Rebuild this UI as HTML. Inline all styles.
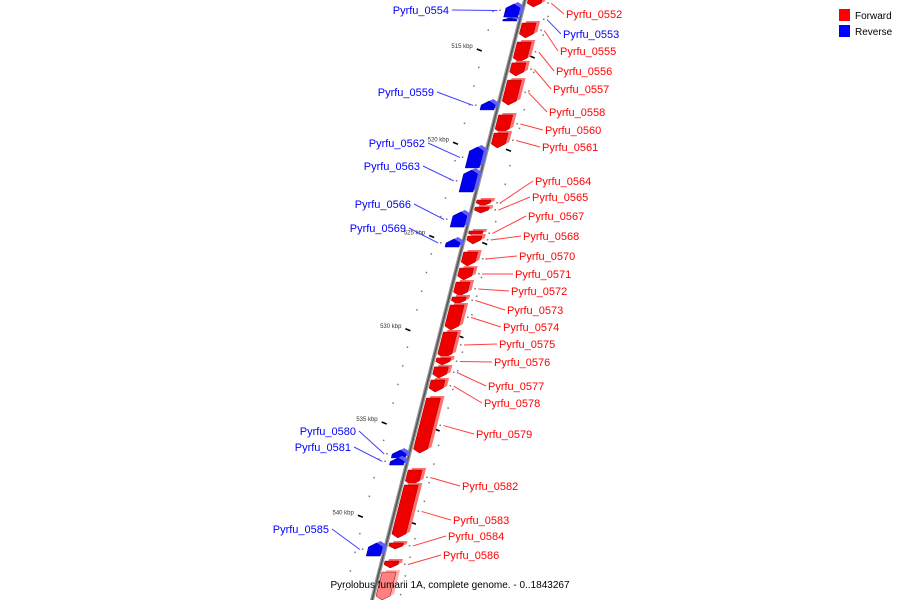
<!DOCTYPE html>
<html><head><meta charset="utf-8"><style>
html,body{margin:0;padding:0;background:#fff;width:900px;height:600px;overflow:hidden}
svg text{font-family:"Liberation Sans","DejaVu Sans",sans-serif}
</style></head><body>
<svg id="chart" width="900" height="600" viewBox="0 0 900 600" xmlns="http://www.w3.org/2000/svg">
<g id="ticks"></g>
<line x1="527" y1="-8" x2="371" y2="604" stroke="#999" stroke-width="4"/>
<line x1="527" y1="-8" x2="371" y2="604" stroke="#555" stroke-width="1.5"/>
<g id="genes"></g>
<g id="labels"></g>
<g>
<rect x="839" y="9" width="11" height="12" fill="#ff0000"/>
<text x="855" y="19" font-size="10" fill="#000">Forward</text>
<rect x="839" y="25" width="11" height="12" fill="#0000ff"/>
<text x="855" y="35" font-size="10" fill="#000">Reverse</text>
</g>
<text x="450" y="588" font-size="10" text-anchor="middle" fill="#000">Pyrolobus fumarii 1A, complete genome. - 0..1843267</text>
</svg>
<script>
const geneNames = ["Pyrfu_0552","Pyrfu_0553","Pyrfu_0554","Pyrfu_0555","Pyrfu_0556","Pyrfu_0557","Pyrfu_0558","Pyrfu_0559","Pyrfu_0560","Pyrfu_0561","Pyrfu_0562","Pyrfu_0563","Pyrfu_0564","Pyrfu_0565","Pyrfu_0566","Pyrfu_0567","Pyrfu_0568","Pyrfu_0569","Pyrfu_0570","Pyrfu_0571","Pyrfu_0572","Pyrfu_0573","Pyrfu_0574","Pyrfu_0575","Pyrfu_0576","Pyrfu_0577","Pyrfu_0578","Pyrfu_0579","Pyrfu_0580","Pyrfu_0581","Pyrfu_0582","Pyrfu_0583","Pyrfu_0584","Pyrfu_0585","Pyrfu_0586",""];
const geneStrand = [1,-1,-1,1,1,1,1,-1,1,1,-1,-1,1,1,-1,1,1,-1,1,1,1,1,1,1,1,1,1,1,-1,-1,1,1,1,-1,1,1];
const geneStart = [512.40,513.40,512.64,513.66,514.68,515.80,516.72,517.84,518.59,519.56,520.31,521.54,523.15,523.53,523.79,524.81,525.08,525.24,525.94,526.80,527.55,528.35,528.78,530.23,531.62,532.10,532.80,533.77,536.56,536.98,537.63,538.43,541.54,541.54,542.51,543.10];
const geneEnd   = [512.80,513.55,513.34,514.46,515.75,516.50,518.06,518.32,519.56,520.36,521.43,522.72,523.47,523.85,524.60,525.08,525.51,525.67,526.69,527.44,528.30,528.73,530.12,531.62,532.00,532.70,533.45,536.72,536.98,537.36,538.43,541.27,541.86,542.24,542.88,544.60];
const labelX = [566,563,449,560,556,553,549,434,545,542,425,420,535,532,411,528,523,406,519,515,511,507,503,499,494,488,484,476,356,351,462,453,448,329,443,0];
const labelY = [18,38,14,55,75,93,116,96,134,151,147,170,185,201,208,220,240,232,260,278,295,314,331,348,366,390,407,438,435,451,490,524,540,533,559,0];
const tickValues = [515,520,525,530,535,540];
const tickLabels = ["515 kbp","520 kbp","525 kbp","530 kbp","535 kbp","540 kbp"];
const minorTicks = [511,512,513,514,516,517,518,519,521,522,523,524,526,527,528,529,531,532,533,534,536,537,538,539,541,542,543,544];

const NS="http://www.w3.org/2000/svg";
function yOf(k){return 48+(k-515)*18.65;}
function lx(y){return 525-0.255*y;}
function mk(tag,attrs,parent){const e=document.createElementNS(NS,tag);for(const k in attrs)e.setAttribute(k,attrs[k]);parent.appendChild(e);return e;}

const tg=document.getElementById('ticks');
tickValues.forEach((v,i)=>{
  const y=yOf(v),x=lx(y);
  const d=mk('line',{x1:x-36,y1:y+1,x2:x-31,y2:y+3,stroke:'#000','stroke-width':1.5},tg);
  
  
  const t=mk('text',{x:x-40,y:y,'font-size':6,'text-anchor':'end',fill:'#333'},tg);
  t.textContent=tickLabels[i];
  
  
  const r=mk('line',{x1:x+17,y1:y+8,x2:x+22,y2:y+10,stroke:'#000','stroke-width':1.5},tg);
  
  
});
minorTicks.forEach(v=>{
  const y=yOf(v),x=lx(y);
  const a=mk('rect',{x:x-30,y:y,width:1.5,height:1.5,fill:'#777'},tg);
  
  
  const b=mk('rect',{x:x+25,y:y+5,width:1.5,height:1.5,fill:'#777'},tg);
  
  
});

const gg=document.getElementById('genes'), lg=document.getElementById('labels');
geneNames.forEach((n,i)=>{
  const s=geneStrand[i], y1=yOf(geneStart[i]), y2=yOf(geneEnd[i]);
  const faded = n==="";
  const main = s>0?(faded?'#ff8080':'#ee0000'):'#0000ee';
  const side = s>0?(faded?'#ffb0b0':'#ff7070'):'#6060ff';
  const dark = s>0?'#990000':'#000099';
  const h=Math.min(4,(y2-y1)/2);
  let a,b; if(s>0){a=3;b=17;}else{a=-17;b=-3;}
  let pts;
  if(s>0){
    pts=[[lx(y1)+a,y1],[lx(y1)+b,y1],[lx(y2-h)+b,y2-h],[lx(y2)+(a+b)/2,y2],[lx(y2-h)+a,y2-h]];
  } else {
    pts=[[lx(y1+h)+a,y1+h],[lx(y1)+(a+b)/2,y1],[lx(y1+h)+b,y1+h],[lx(y2)+b,y2],[lx(y2)+a,y2]];
  }
  const P=pts.map(p=>p.join(',')).join(' ');
  const P2=pts.map(p=>(p[0]+4)+','+(p[1]-2)).join(' ');
  const back=mk('polygon',{points:P2,fill:side},gg);
  
  
  const g=mk('polygon',{points:P,fill:main,stroke:dark,'stroke-width':0.5},gg);
  
  
  if(!n) return;
  const ym=(y1+y2)/2;
  const col = (n==="Pyrfu_0553"||s<0)?'#0000ff':'#ff0000';
  const lineCol = col==='#0000ff'?'#4040ff':'#ff4040';
  const right = labelX[i] > lx(labelY[i]);
  const gx = right? lx(ym)+24 : lx(ym)-22;
  const dot=mk('rect',{x:gx-1,y:ym-1,width:1.5,height:1.5,fill:'#777'},gg);
  
  
  const ex = right? labelX[i]-2 : labelX[i]+3;
  const ln=mk('line',{x1:gx+(right?3:-3),y1:ym,x2:ex,y2:labelY[i]-4,stroke:lineCol,'stroke-width':1},lg);
  
  
  const t=mk('text',{x:labelX[i],y:labelY[i],'font-size':11,fill:col,'text-anchor':right?'start':'end'},lg);
  t.textContent=n;
  
  
});
</script>
</body></html>
